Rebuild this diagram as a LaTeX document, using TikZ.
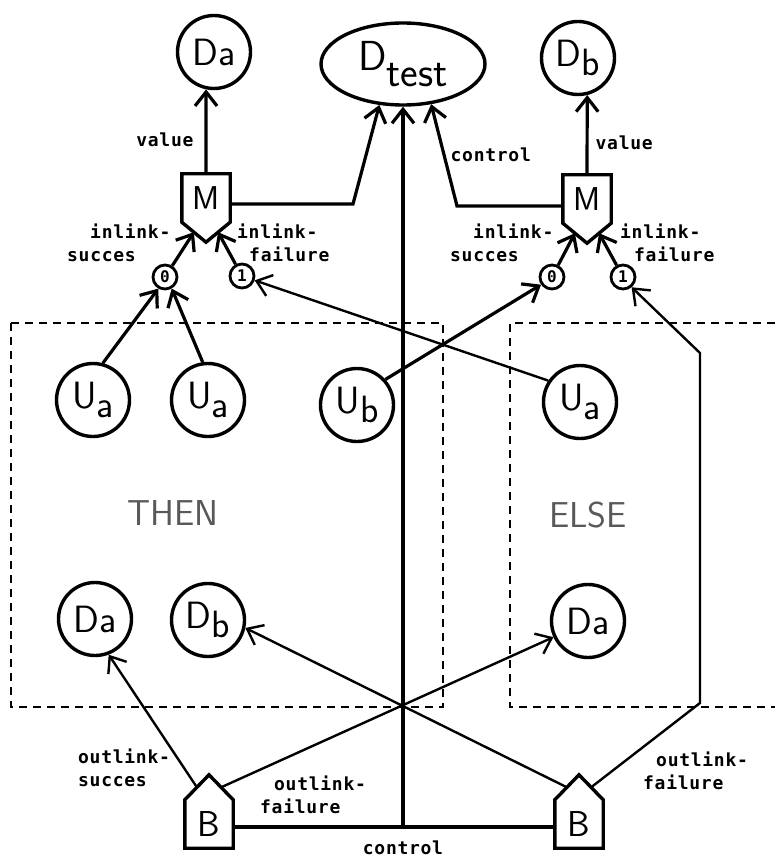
\documentclass[tikz,border=0pt]{standalone}
\usepackage{fontspec}
\usepackage{tikz}
\usetikzlibrary{positioning,calc,arrows.meta,shapes.geometric}
\newfontfamily\labfont[LetterSpace=4]{DejaVu Sans Mono}
\newcommand{\low}[1]{\raisebox{-0.22em}{#1}}
\tikzstyle{unit} = [draw, circle, line width=3.4pt, minimum size=73pt, inner sep=0pt, font=\sffamily\fontsize{38}{38}\selectfont]
\tikzstyle{test} = [draw, ellipse, line width=3.4pt, minimum width=164pt, minimum height=82pt, inner sep=0pt, font=\sffamily\fontsize{42}{42}\selectfont]
\tikzstyle{port} = [draw, circle, line width=2.8pt, minimum size=24pt, inner sep=0pt, font=\labfont\bfseries\fontsize{16}{16}\selectfont]
\tikzstyle{core} = [rectangle, minimum width=48pt, minimum height=48pt, inner sep=0pt, font=\sffamily\fontsize{33}{33}\selectfont]
\tikzstyle{shell} = [line width=3.4pt, line join=miter]
\tikzstyle{lab} = [font=\labfont\bfseries\fontsize{18}{23}\selectfont, inner sep=0pt, align=left]
\tikzstyle{region} = [font=\sffamily\fontsize{36}{36}\selectfont, text=black!65]
\tikzstyle{part} = [line width=2.4pt, dash pattern=on 8pt off 6pt]
\tikzstyle{link} = [->, >={Straight Barb[length=14pt,width=22pt]}, line width=3.2pt]
\tikzstyle{slink} = [->, >={Straight Barb[length=14pt,width=22pt]}, line width=2.4pt]

\begin{document}
\begin{tikzpicture}[x=1pt, y=-1pt]
	\useasboundingbox (0,0) rectangle (775,861);
	% then / else parts
	\draw [part] (11,323) rectangle (443,707);
	\draw [part] (775,323) -- (510,323) -- (510,707) -- (775,707);
	\node (then) [region] at (173,513) {THEN};
	\node (else) [region] at (588,515) {ELSE};
	% top row
	\node (dt)  [test] at (403,64) {D\raisebox{-0.38em}{test}};
	\node (da0) [unit] at (214,52) {Da};
	\node (db0) [unit] at (578,58) {D\low{b}};
	\node (m1) [core] at (206,198) {M};
	\node (m2) [core] at (587,199) {M};
	\coordinate (m1t) at ($(m1.south)+(0,20)$);
	\coordinate (m2t) at ($(m2.south)+(0,20)$);
	\draw [shell] (m1.north west) -- (m1.north east) -- (m1.south east) -- (m1t) -- (m1.south west) -- cycle;
	\draw [shell] (m2.north west) -- (m2.north east) -- (m2.south east) -- (m2t) -- (m2.south west) -- cycle;
	\node (c0) [port] at (165,277) {0};
	\node (c1) [port] at (242,276) {1};
	\node (c2) [port] at (552,277) {0};
	\node (c3) [port] at (623,277) {1};
	% units
	\node (ua1) [unit] at (93,400) {U\low{a}};
	\node (ua2) [unit] at (208,400) {U\low{a}};
	\node (ub)  [unit] at (357,405) {U\low{b}};
	\node (ua3) [unit] at (580,402) {U\low{a}};
	\node (da1) [unit] at (95,619) {Da};
	\node (db1) [unit] at (208,620) {D\low{b}};
	\node (da3) [unit] at (588,621) {Da};
	\node (b1) [core, font=\sffamily\fontsize{36}{36}\selectfont] at (209,824) {B};
	\node (b2) [core, font=\sffamily\fontsize{36}{36}\selectfont] at (579,824) {B};
	\coordinate (b1t) at ($(b1.north)+(0,-25)$);
	\coordinate (b2t) at ($(b2.north)+(0,-25)$);
	\draw [shell] (b1.south west) -- (b1.north west) -- (b1t) -- (b1.north east) -- (b1.south east) -- cycle;
	\draw [shell] (b2.south west) -- (b2.north west) -- (b2t) -- (b2.north east) -- (b2.south east) -- cycle;
	\coordinate (k1) at (353,204);
	\coordinate (k2) at (457,206);
	\coordinate (k3) at (700,703);
	\coordinate (k4) at (700,353);
	\coordinate (k5) at (403,827);
	% labels
	\node (l1) [lab, anchor=west] at (67,243) {\hspace*{23pt}inlink-\\succes};
	\node (l2) [lab, anchor=west] at (237,243) {inlink-\\\hspace*{12pt}failure};
	\node (l3) [lab, anchor=west] at (450,243) {\hspace*{23pt}inlink-\\succes};
	\node (l4) [lab, anchor=west] at (620,243) {inlink-\\\hspace*{14pt}failure};
	\node (l5) [lab, anchor=west] at (78,768) {outlink-\\succes};
	\node (l6) [lab, anchor=west] at (260,795) {\hspace*{14pt}outlink-\\failure};
	\node (l7) [lab, anchor=west] at (643,771) {\hspace*{13pt}outlink-\\failure};
	\node (ctrl) [lab, below=14pt] at (k5) {control};
	% connectors
	\draw [link] (m1.north) -- node[lab, left=11pt, pos=0.4] {value} (da0.258);
	\draw [link] (m2.north) -- node[lab, right=7pt, pos=0.4] {value} (db0.284);
	\draw [link] (k1 -| m1.east) -- (k1) -- (dt.240);
	\draw [link] (k2 -| m2.west) -- (k2) -- node[lab, right=5pt] {control} (dt.305);
	\draw [line width=3.2pt] (k5 -| b1.east) -- (k5 -| b2.west);
	\draw [link] (k5) -- (dt.south);
	\draw [link] (c0) -- ($(m1.south west)!0.5!(m1t)$);
	\draw [link] (c1) -- ($(m1.south east)!0.5!(m1t)$);
	\draw [link] (c2) -- ($(m2.south west)!0.5!(m2t)$);
	\draw [link] (c3) -- ($(m2.south east)!0.5!(m2t)$);
	\draw [link] (ua1.75) -- (c0.240);
	\draw [link] (ua2.98) -- (c0.300);
	\draw [link] (ub.42) -- (c2.215);
	\draw [slink] (ua3.146) -- (c1.341);
	\draw [slink] ($(b2.north east)!0.5!(b2t)$) -- (k3) -- (k4) -- (c3.310);
	\draw [slink] ($(b1.north west)!0.5!(b1t)$) -- (da1.291);
	\draw [slink] ($(b1.north east)!0.5!(b1t)$) -- (da3.205);
	\draw [slink] ($(b2.north west)!0.5!(b2t)$) -- (db1.348);
\end{tikzpicture}
\end{document}
